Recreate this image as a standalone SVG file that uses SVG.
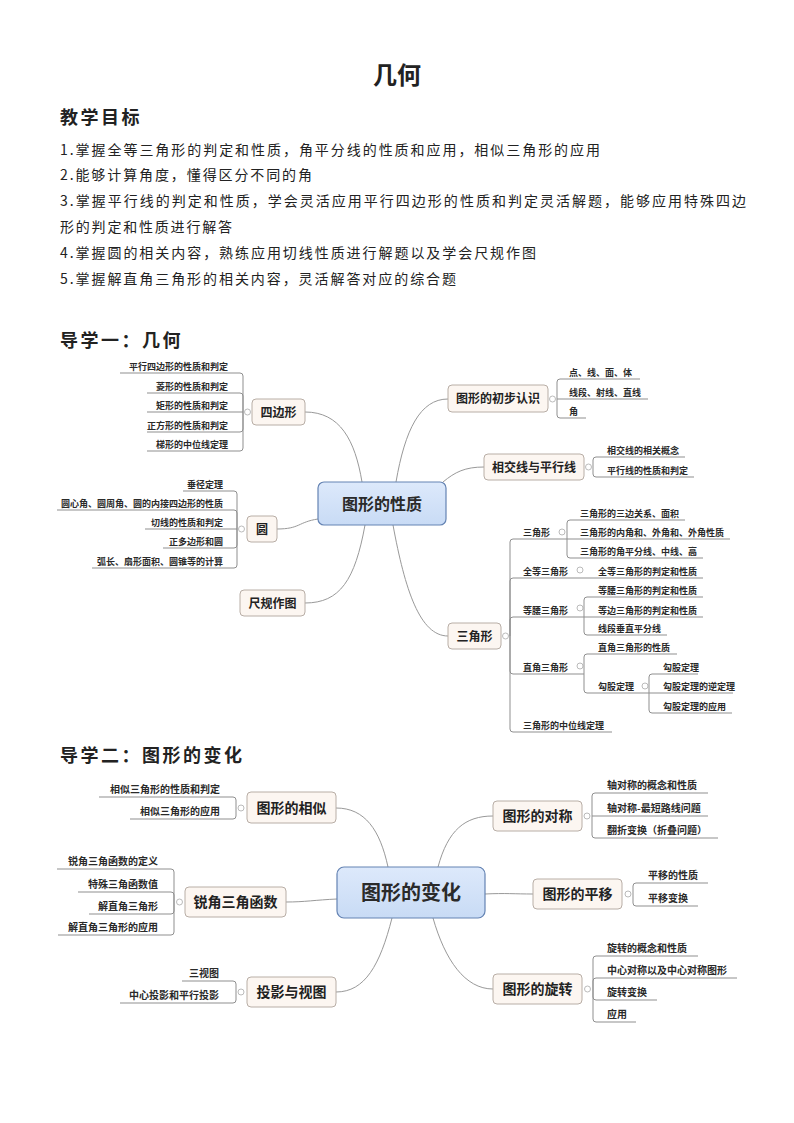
<svg xmlns="http://www.w3.org/2000/svg" width="794" height="1123" viewBox="0 0 794 1123">
<style>
text{font-family:"Noto Sans CJK SC","Noto Sans",sans-serif;fill:#222}
.title{font-size:24px;font-weight:bold;text-anchor:middle}
.h{font-size:18px;font-weight:bold;letter-spacing:2.5px}
.obj{font-size:14px}
.n1 rect{fill:#fcf6f1;stroke:#b8aea6;stroke-width:1}
.n1 text{font-size:12px;font-weight:bold;text-anchor:middle}
.n2 rect{fill:#fcf6f1;stroke:#b8aea6;stroke-width:1}
.n2 text{font-size:14px;font-weight:bold;text-anchor:middle}
.c rect{fill:url(#cg);stroke:#6483b3;stroke-width:1.2}
.c text{font-weight:bold;text-anchor:middle;fill:#2a2a2a}
.l{font-size:9px;font-weight:bold;fill:#2a2a2a}
.m{font-size:10px;font-weight:bold;fill:#2a2a2a}
.e{text-anchor:end}
.cv{fill:none;stroke:#999;stroke-width:1}
.ul{fill:none;stroke:#8f8f8f;stroke-width:1}
.k{fill:#fff;stroke:#aaa;stroke-width:0.8}
</style>
<defs>
<linearGradient id="cg" x1="0" y1="0" x2="0" y2="1">
<stop offset="0" stop-color="#dde9fb"/>
<stop offset="1" stop-color="#c8dbf5"/>
</linearGradient>
</defs>
<rect width="794" height="1123" fill="#fff"/>

<text class="title" x="397" y="84">几何</text>
<text class="h" x="60" y="124">教学目标</text>
<g class="obj-lines">
<text class="obj" x="60" y="155" textLength="540" lengthAdjust="spacing">1.掌握全等三角形的判定和性质，角平分线的性质和应用，相似三角形的应用</text>
<text class="obj" x="60" y="180" textLength="252" lengthAdjust="spacing">2.能够计算角度，懂得区分不同的角</text>
<text class="obj" x="60" y="206" textLength="686" lengthAdjust="spacing">3.掌握平行线的判定和性质，学会灵活应用平行四边形的性质和判定灵活解题，能够应用特殊四边</text>
<text class="obj" x="60" y="232" textLength="172" lengthAdjust="spacing">形的判定和性质进行解答</text>
<text class="obj" x="60" y="258" textLength="476" lengthAdjust="spacing">4.掌握圆的相关内容，熟练应用切线性质进行解题以及学会尺规作图</text>
<text class="obj" x="60" y="284" textLength="396" lengthAdjust="spacing">5.掌握解直角三角形的相关内容，灵活解答对应的综合题</text>
</g>

<text class="h" x="60" y="347">导学一：几何</text>
<text class="h" x="60" y="762">导学二：图形的变化</text>

<!-- connectors -->
<g id="connectors">
<path class="cv" d="M362 482 C355 440 340 412 305 412"/>
<path class="cv" d="M318 519 C298 522 300 529 277 529"/>
<path class="cv" d="M365 525 C355 580 340 603 305 603"/>
<path class="cv" d="M393 525 C405 590 420 636 448 636"/>
<path class="cv" d="M396 482 C405 430 420 399 448 399"/>
<path class="cv" d="M443 482 C455 472 465 467 484 467"/>

<path class="cv" d="M388 867 C380 830 365 808 336 808"/>
<path class="cv" d="M438 867 C448 830 465 816 493 816"/>
<path class="cv" d="M485 894 C505 893 515 894 533 894"/>
<path class="cv" d="M337 899 C315 900 305 902 286 902"/>
<path class="cv" d="M392 918 C380 965 365 992 336 992"/>
<path class="cv" d="M433 918 C445 960 465 989 493 989"/>

<!-- brackets / underlines map 1 -->
<path class="ul" d="M243 412 V376 Q243 373 240 373 H120 M243 412 V396 Q243 393 240 393 H147 M243 412 H147 M243 412 V429 Q243 432 240 432 H147 M243 412 V448 Q243 451 240 451 H147"/>
<path class="ul" d="M237 529 V494 Q237 491 234 491 H183 M237 529 V513 Q237 510 234 510 H57 M237 529 H145 M237 529 V545 Q237 548 234 548 H163 M237 529 V565 Q237 568 234 568 H92"/>
<path class="ul" d="M557 399 V382 Q557 379 560 379 H640 M557 399 H648 M557 399 V415 Q557 418 560 418 H586"/>
<path class="ul" d="M593 467 V460 Q593 457 596 457 H685 M593 467 V474 Q593 477 596 477 H694"/>
<path class="ul" d="M510 636 V542 Q510 539 513 539 H567 M510 636 V581 Q510 578 513 578 H703 M510 636 V620 Q510 617 513 617 H584 M510 636 V671 Q510 674 513 674 H584 M510 636 V729 Q510 732 513 732 H612"/>
<path class="ul" d="M567 539 V523 Q567 520 570 520 H685 M567 539 H730 M567 539 V555 Q567 558 570 558 H703"/>
<path class="ul" d="M584 617 V600 Q584 597 587 597 H703 M584 617 H703 M584 617 V632 Q584 635 587 635 H667"/>
<path class="ul" d="M584 674 V657 Q584 654 587 654 H677 M584 674 V690 Q584 693 587 693 H649"/>
<path class="ul" d="M649 693 V677 Q649 674 652 674 H698 M649 693 H733 M649 693 V710 Q649 713 652 713 H732"/>

<!-- brackets / underlines map 2 -->
<path class="ul" d="M236 808 V800 Q236 797 233 797 H99 M236 808 V816 Q236 819 233 819 H130"/>
<path class="ul" d="M174 902 V872 Q174 869 171 869 H57 M174 902 V895 Q174 892 171 892 H78 M174 902 V911 Q174 914 171 914 H89 M174 902 V932 Q174 935 171 935 H58"/>
<path class="ul" d="M236 992 V984 Q236 981 233 981 H182 M236 992 V1000 Q236 1003 233 1003 H120"/>
<path class="ul" d="M592 816 V796 Q592 793 595 793 H708 M592 816 H708 M592 816 V835 Q592 838 595 838 H718"/>
<path class="ul" d="M633 894 V886 Q633 883 636 883 H708 M633 894 V903 Q633 906 636 906 H698"/>
<path class="ul" d="M593 989 V959 Q593 956 596 956 H698 M593 989 V981 Q593 978 596 978 H737 M593 989 V997 Q593 1000 596 1000 H657 M593 989 V1019 Q593 1022 596 1022 H636"/>

<!-- collapse markers -->
<g>
<circle class="k" cx="247.5" cy="412" r="3"/>
<circle class="k" cx="241.5" cy="529" r="3"/>
<circle class="k" cx="552.5" cy="399" r="3"/>
<circle class="k" cx="588.5" cy="467" r="3"/>
<circle class="k" cx="505.5" cy="636" r="3"/>
<circle class="k" cx="562" cy="532" r="3"/>
<circle class="k" cx="580" cy="570" r="3"/>
<circle class="k" cx="580" cy="608" r="3"/>
<circle class="k" cx="580" cy="666" r="3"/>
<circle class="k" cx="645" cy="686" r="3"/>
<circle class="k" cx="241" cy="808" r="3"/>
<circle class="k" cx="179.5" cy="902" r="3"/>
<circle class="k" cx="241" cy="992" r="3"/>
<circle class="k" cx="587" cy="816" r="3"/>
<circle class="k" cx="628" cy="894" r="3"/>
<circle class="k" cx="587.5" cy="989" r="3"/>
</g>
</g>

<!-- Map 1 nodes -->
<g id="center1" class="c"><rect x="318" y="482" width="128" height="43" rx="6"/><text x="382" y="509.5" font-size="16">图形的性质</text></g>
<g id="sibianxing" class="n1"><rect x="252" y="399" width="53" height="26" rx="4"/><text x="278.5" y="416.5">四边形</text></g>
<g id="yuan" class="n1"><rect x="247" y="516" width="30" height="26" rx="4"/><text x="262" y="533.5">圆</text></g>
<g id="chigui" class="n1"><rect x="240" y="590" width="65" height="26" rx="4"/><text x="272.5" y="607.5">尺规作图</text></g>
<g id="chubu" class="n1"><rect x="448" y="385" width="100" height="27" rx="4"/><text x="498" y="403">图形的初步认识</text></g>
<g id="xiangjiao" class="n1"><rect x="484" y="454" width="100" height="26" rx="4"/><text x="534" y="471.5">相交线与平行线</text></g>
<g id="sanjiao" class="n1"><rect x="448" y="623" width="53" height="26" rx="4"/><text x="474.5" y="640.5">三角形</text></g>

<g id="leaves-sibianxing">
<text class="l e" x="228" y="369.5">平行四边形的性质和判定</text>
<text class="l e" x="228" y="389.5">菱形的性质和判定</text>
<text class="l e" x="228" y="408.5">矩形的性质和判定</text>
<text class="l e" x="228" y="428.5">正方形的性质和判定</text>
<text class="l e" x="228" y="447.5">梯形的中位线定理</text>
</g>
<g id="leaves-yuan">
<text class="l e" x="223" y="487.5">垂径定理</text>
<text class="l e" x="223" y="506.5">圆心角、圆周角、圆的内接四边形的性质</text>
<text class="l e" x="223" y="525.5">切线的性质和判定</text>
<text class="l e" x="223" y="544.5">正多边形和圆</text>
<text class="l e" x="223" y="564.5">弧长、扇形面积、圆锥等的计算</text>
</g>
<g id="leaves-chubu">
<text class="l" x="569" y="375.5">点、线、面、体</text>
<text class="l" x="569" y="395.5">线段、射线、直线</text>
<text class="l" x="569" y="414.5">角</text>
</g>
<g id="leaves-xiangjiao">
<text class="l" x="607" y="453.5">相交线的相关概念</text>
<text class="l" x="607" y="473.5">平行线的性质和判定</text>
</g>
<g id="leaves-sanjiao">
<text class="l" x="523" y="535.5">三角形</text>
<text class="l" x="580" y="516.5">三角形的三边关系、面积</text>
<text class="l" x="580" y="535.5">三角形的内角和、外角和、外角性质</text>
<text class="l" x="580" y="554.5">三角形的角平分线、中线、高</text>
<text class="l" x="523" y="574.5">全等三角形</text>
<text class="l" x="598" y="574.5">全等三角形的判定和性质</text>
<text class="l" x="523" y="613.5">等腰三角形</text>
<text class="l" x="598" y="593.5">等腰三角形的判定和性质</text>
<text class="l" x="598" y="613.5">等边三角形的判定和性质</text>
<text class="l" x="598" y="631.5">线段垂直平分线</text>
<text class="l" x="523" y="670.5">直角三角形</text>
<text class="l" x="598" y="650.5">直角三角形的性质</text>
<text class="l" x="598" y="689.5">勾股定理</text>
<text class="l" x="663" y="670.5">勾股定理</text>
<text class="l" x="663" y="689.5">勾股定理的逆定理</text>
<text class="l" x="663" y="709.5">勾股定理的应用</text>
<text class="l" x="523" y="728.5">三角形的中位线定理</text>
</g>

<!-- Map 2 nodes -->
<g id="center2" class="c"><rect x="337" y="867" width="148" height="51" rx="7"/><text x="411" y="899.5" font-size="20">图形的变化</text></g>
<g id="xiangsi" class="n2"><rect x="247" y="792" width="89" height="31" rx="4"/><text x="291.5" y="812.5">图形的相似</text></g>
<g id="ruijiao" class="n2"><rect x="185" y="887" width="101" height="30" rx="4"/><text x="235.5" y="907">锐角三角函数</text></g>
<g id="touying" class="n2"><rect x="247" y="977" width="89" height="30" rx="4"/><text x="291.5" y="997">投影与视图</text></g>
<g id="duicheng" class="n2"><rect x="493" y="801" width="89" height="30" rx="4"/><text x="537.5" y="821">图形的对称</text></g>
<g id="pingyi" class="n2"><rect x="533" y="879" width="89" height="30" rx="4"/><text x="577.5" y="899">图形的平移</text></g>
<g id="xuanzhuan" class="n2"><rect x="493" y="974" width="89" height="30" rx="4"/><text x="537.5" y="994">图形的旋转</text></g>

<g id="leaves-xiangsi">
<text class="m e" x="220" y="793">相似三角形的性质和判定</text>
<text class="m e" x="220" y="815">相似三角形的应用</text>
</g>
<g id="leaves-ruijiao">
<text class="m e" x="158" y="865">锐角三角函数的定义</text>
<text class="m e" x="158" y="888">特殊三角函数值</text>
<text class="m e" x="158" y="910">解直角三角形</text>
<text class="m e" x="158" y="931">解直角三角形的应用</text>
</g>
<g id="leaves-touying">
<text class="m e" x="219" y="977">三视图</text>
<text class="m e" x="219" y="999">中心投影和平行投影</text>
</g>
<g id="leaves-duicheng">
<text class="m" x="607" y="789">轴对称的概念和性质</text>
<text class="m" x="607" y="812">轴对称-最短路线问题</text>
<text class="m" x="607" y="834">翻折变换（折叠问题）</text>
</g>
<g id="leaves-pingyi">
<text class="m" x="648" y="879">平移的性质</text>
<text class="m" x="648" y="902">平移变换</text>
</g>
<g id="leaves-xuanzhuan">
<text class="m" x="607" y="952">旋转的概念和性质</text>
<text class="m" x="607" y="974">中心对称以及中心对称图形</text>
<text class="m" x="607" y="996">旋转变换</text>
<text class="m" x="607" y="1018">应用</text>
</g>
</svg>
